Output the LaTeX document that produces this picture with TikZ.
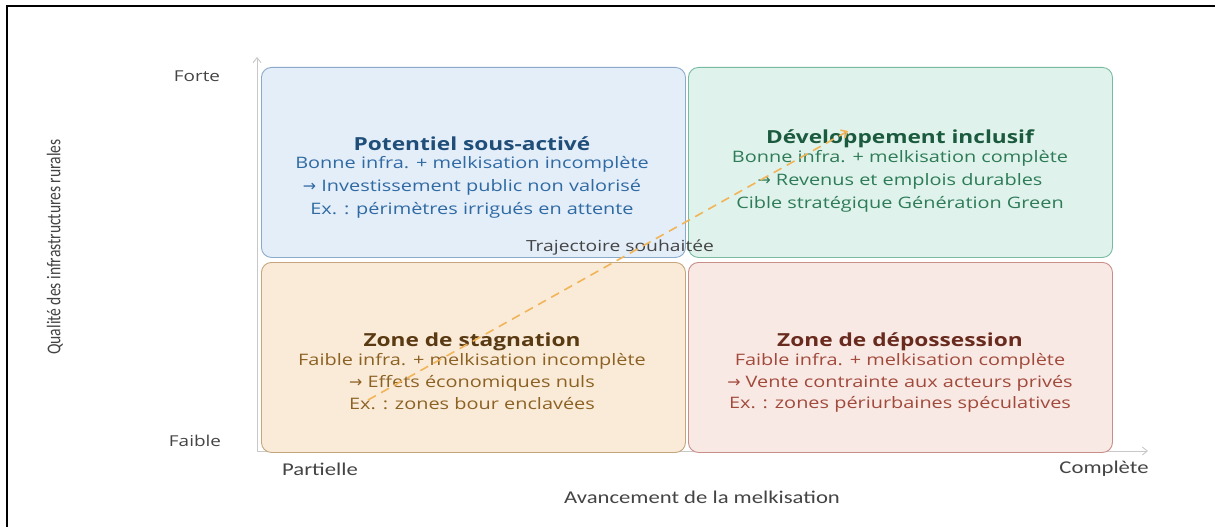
\documentclass[tikz,border=0pt]{standalone}
\usepackage{fontspec}
\setmainfont[FakeStretch=1.26]{Open Sans}
\newfontfamily\calib[FakeStretch=1.26]{Carlito}
\newfontfamily\calibv[FakeStretch=0.8]{Carlito}
\newfontfamily\arrowfnt[FakeStretch=1.0]{DejaVu Sans}
\newcommand{\myarr}{{\arrowfnt →}}
\usetikzlibrary{arrows.meta}
\definecolor{tlfill}{HTML}{E4EEF9}\definecolor{tldraw}{HTML}{8AAACB}
\definecolor{tltitle}{HTML}{1F4E79}\definecolor{tltext}{HTML}{2F6AA3}
\definecolor{trfill}{HTML}{DFF3EC}\definecolor{trdraw}{HTML}{79BBA0}
\definecolor{trtitle}{HTML}{1B5A3E}\definecolor{trtext}{HTML}{2E7B58}
\definecolor{blfill}{HTML}{FAEBD8}\definecolor{bldraw}{HTML}{C4A57E}
\definecolor{bltitle}{HTML}{5A3A12}\definecolor{bltext}{HTML}{8C6224}
\definecolor{brfill}{HTML}{F9E9E5}\definecolor{brdraw}{HTML}{C88E88}
\definecolor{brtitle}{HTML}{6A2B1F}\definecolor{brtext}{HTML}{A14A3B}
\definecolor{axisgray}{HTML}{C8C8C8}
\definecolor{traj}{HTML}{F2B458}
\definecolor{labgray}{HTML}{444444}
\tikzset{
  quad/.style={rounded corners=10pt, line width=0.9pt, minimum width=424pt, minimum height=190pt, anchor=north west, inner sep=0pt},
  ttl/.style={font=\fontsize{18}{20}\selectfont\bfseries, inner sep=0pt},
  body/.style={font=\fontsize{15.8}{17}\selectfont, inner sep=0pt},
  axlab/.style={font=\fontsize{15}{17}\selectfont, text=labgray, inner sep=0pt},
  axlabc/.style={font=\calib\fontsize{18}{20}\selectfont, text=labgray, inner sep=0pt},
  axtitle/.style={font=\calib\fontsize{18}{20}\selectfont, text=labgray, inner sep=0pt},
  axtitlev/.style={font=\calibv\fontsize{19.5}{21}\selectfont, text=labgray, inner sep=0pt},
}
\begin{document}
\begin{tikzpicture}[x=1pt,y=-1pt]
\useasboundingbox (0,0) rectangle (1215,527);
\fill[white] (0,0) rectangle (1215,527);
% frame
\coordinate (f1) at (7,527); \coordinate (f2) at (7,6); \coordinate (f3) at (1215,6);
\draw[line width=2pt, black] (f1) -- (f2) -- (f3);
% axes
\coordinate (o) at (257,451);
\coordinate (ytip) at (257,57);
\coordinate (xtip) at (1148,451);
\draw[axisgray, line width=0.9pt, -{Straight Barb[length=5pt,width=8pt]}] (o) -- (ytip);
\draw[axisgray, line width=0.9pt, -{Straight Barb[length=5pt,width=8pt]}] (o) -- (xtip);
% quadrants
\node[quad, draw=tldraw, fill=tlfill] (tl) at (261,67) {};
\node[quad, draw=trdraw, fill=trfill] (tr) at (688,67) {};
\node[quad, draw=bldraw, fill=blfill] (bl) at (261,262) {};
\node[quad, draw=brdraw, fill=brfill] (br) at (688,262) {};
% TL text
\node[ttl, text=tltitle] (tlt) at (472,144) {Potentiel sous-activé};
\node[body, text=tltext] (tl1) at (472,164) {Bonne infra. + melkisation incomplète};
\node[body, text=tltext] (tl2) at (472,187) {\myarr\ Investissement public non valorisé};
\node[body, text=tltext] (tl3) at (472,210) {Ex. : périmètres irrigués en attente};
% TR text
\node[ttl, text=trtitle] (trt) at (900,139) {Développement inclusif};
\node[body, text=trtext] (tr1) at (900,158) {Bonne infra. + melkisation complète};
\node[body, text=trtext] (tr2) at (900,181) {\myarr\ Revenus et emplois durables};
\node[body, text=trtext] (tr3) at (900,204) {Cible stratégique Génération Green};
% BL text
\node[ttl, text=bltitle] (blt) at (472,342) {Zone de stagnation};
\node[body, text=bltext] (bl1) at (472,361) {Faible infra. + melkisation incomplète};
\node[body, text=bltext] (bl2) at (472,383) {\myarr\ Effets économiques nuls};
\node[body, text=bltext] (bl3) at (472,404) {Ex. : zones bour enclavées};
% BR text
\node[ttl, text=brtitle] (brt) at (900,342) {Zone de dépossession};
\node[body, text=brtext] (br1) at (900,361) {Faible infra. + melkisation complète};
\node[body, text=brtext] (br2) at (900,383) {\myarr\ Vente contrainte aux acteurs privés};
\node[body, text=brtext] (br3) at (900,404) {Ex. : zones périurbaines spéculatives};
% trajectory
\node[body, text=labgray, font=\fontsize{15.3}{17}\selectfont] (trl) at (620,247) {Trajectoire souhaitée};
\coordinate (ts) at (368,400);
\coordinate (te) at (848,131);
\draw[traj, line width=1.6pt, dash pattern=on 9pt off 6pt, -{Straight Barb[length=5pt,width=9pt]}] (ts) -- (te);
% axis labels
\node[axlab] (forte) at (197,76) {Forte};
\node[axlab] (faible) at (195,441) {Faible};
\node[axlabc] (part) at (320,469) {Partielle};
\node[axlabc] (comp) at (1104,469) {Complète};
\node[axtitle] (xt) at (702,497) {Avancement de la melkisation};
\node[axtitlev, rotate=90] (yt) at (55,247) {Qualité des infrastructures rurales};
\end{tikzpicture}
\end{document}
